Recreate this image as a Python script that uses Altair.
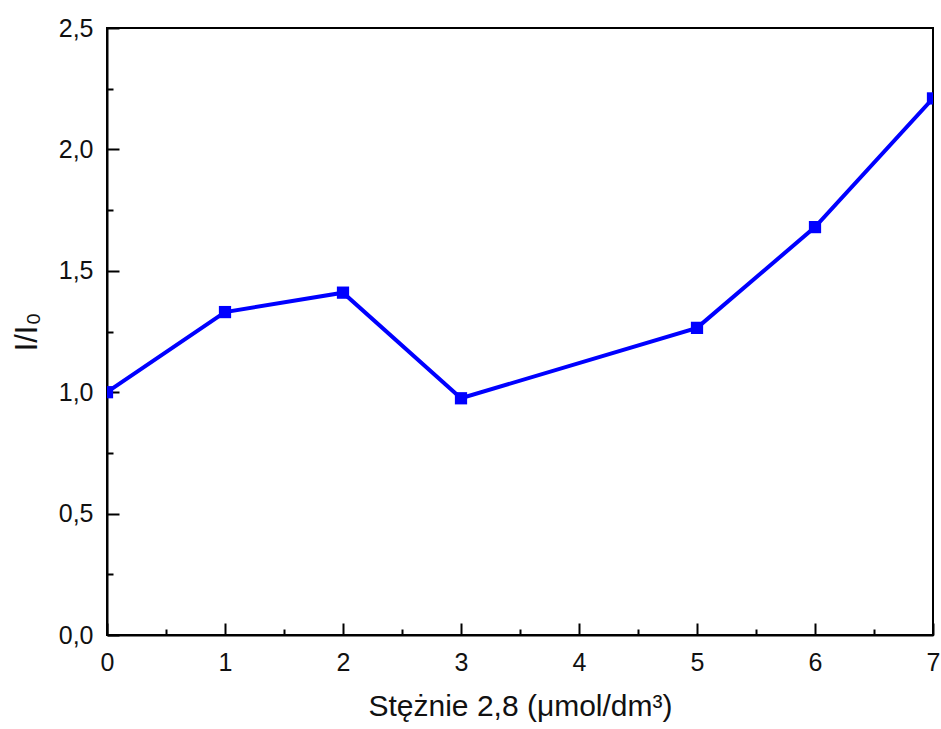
import altair as alt
import pandas as pd

# Measured intensity ratio against concentration step
conc = [0, 1, 2, 3, 5, 6, 7]
ratio = [1.00, 1.33, 1.41, 0.975, 1.265, 1.68, 2.21]

x_major = [0, 1, 2, 3, 4, 5, 6, 7]
x_minor = [0.5, 1.5, 2.5, 3.5, 4.5, 5.5, 6.5]
y_major = [0.0, 0.5, 1.0, 1.5, 2.0, 2.5]
y_minor = [0.25, 0.75, 1.25, 1.75, 2.25]

df = pd.DataFrame({"conc": conc, "ratio": ratio})

FONT = "Liberation Sans"
BLUE = "#0000FF"

xscale = alt.Scale(domain=[0, 7], nice=False, zero=False)
yscale = alt.Scale(domain=[0, 2.5], nice=False, zero=False)

# Axis carrying labels and titles (no ticks; ticks are drawn inward below)
x_lab = alt.Axis(orient="bottom", values=x_major, ticks=False, domain=True,
                 domainColor="black", domainWidth=2, labelFontSize=25,
                 labelFont=FONT, labelColor="#111", labelPadding=15,
                 labelFlush=False, labelOverlap=False,
                 title="Stężnie 2,8 (μmol/dm³)", titleFont=FONT,
                 titleFontSize=30, titleFontWeight="normal",
                 titleColor="#111", titlePadding=16, grid=False)
y_lab = alt.Axis(orient="left", values=y_major, ticks=False, domain=True,
                 domainColor="black", domainWidth=2, labelFontSize=25,
                 labelFont=FONT, labelColor="#111", labelPadding=14,
                 labelFlush=False, labelOverlap=False,
                 labelExpr="replace(format(datum.value, '.1f'), '.', ',')",
                 title="I/I₀", titleFont=FONT, titleFontSize=31,
                 titleFontWeight="normal", titleColor="#111",
                 titlePadding=15, grid=False)

base = alt.Chart(df)

line = base.mark_line(
    color=BLUE, strokeWidth=4, clip=True,
    point=alt.OverlayMarkDef(shape="square", size=150, filled=True,
                             color=BLUE, opacity=1, clip=True),
).encode(
    x=alt.X("conc:Q", scale=xscale, axis=x_lab),
    y=alt.Y("ratio:Q", scale=yscale, axis=y_lab),
)


def tick_layer(xv, yv, length):
    """Invisible layer whose axes draw inward-pointing ticks."""
    xa = alt.Axis(orient="bottom", values=xv, offset=-length, tickSize=length,
                  tickWidth=2, tickColor="black", labels=False, domain=False,
                  grid=False, title=None)
    ya = alt.Axis(orient="left", values=yv, offset=-length, tickSize=length,
                  tickWidth=2, tickColor="black", labels=False, domain=False,
                  grid=False, title=None)
    return base.mark_point(opacity=0).encode(
        x=alt.X("conc:Q", scale=xscale, axis=xa),
        y=alt.Y("ratio:Q", scale=yscale, axis=ya),
    )


chart = (
    alt.layer(line, tick_layer(x_major, y_major, 12),
              tick_layer(x_minor, y_minor, 6))
    .resolve_scale(x="shared", y="shared")
    .resolve_axis(x="independent", y="independent")
    .properties(
        width=826, height=607,
        autosize=alt.AutoSizeParams(type="none"),
        padding={"left": 107, "top": 28, "right": 8, "bottom": 94},
        background="white",
    )
    .configure_view(stroke="black", strokeWidth=2)
)

chart.save("out.html", embed_options={"renderer": "svg", "actions": False})
